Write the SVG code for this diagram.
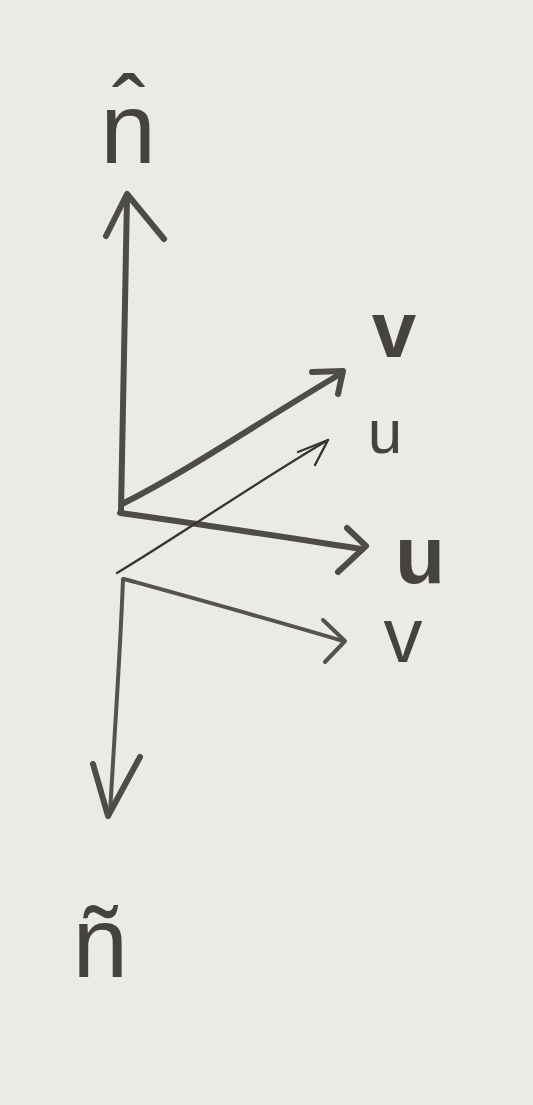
<svg xmlns="http://www.w3.org/2000/svg" width="533" height="1105" viewBox="0 0 533 1105">
<style>
.thick{fill:none;stroke:#4f4b46;stroke-width:6;stroke-linecap:round;stroke-linejoin:round}
.thin{fill:none;stroke:#38362f;stroke-width:2.4;stroke-linecap:round;stroke-linejoin:round}
.mid{fill:none;stroke:#57534c;stroke-width:4;stroke-linecap:round;stroke-linejoin:round}
.lbl{font-family:"Liberation Sans","DejaVu Sans",sans-serif;fill:#46433e;text-anchor:middle}
</style>
<rect width="533" height="1105" fill="#ebebe6"/>
<g id="connectors">
<g id="n-hat-axis"><path class="thick" d="M121 510 C123 420 125 300 127 196"/><path class="thick" d="M106 236 L127 194 L164 239"/></g>
<g id="v-thick"><path class="thick" d="M122 504 C190 470 270 415 342 373"/><path class="thick" d="M312 372 L343 371 L338 394"/></g>
<g id="u-thick"><path class="thick" d="M120 513 C200 524 290 538 362 549"/><path class="thick" d="M347 528 L366 546 L338 572"/></g>
<g id="u-thin"><path class="thin" d="M117 573 C180 535 260 480 328 440"/><path class="thin" d="M298 452 L328 440 L315 465"/></g>
<g id="v-thin"><path class="mid" d="M124 579 C200 600 280 622 343 641"/><path class="mid" d="M323 620 L345 641 L325 662"/></g>
<g id="n-tilde-axis"><path class="mid" d="M123 579 C120 660 114 740 110 814"/><path class="thick" d="M93 764 L108 816 L140 757"/></g>
</g>
<g id="label-n-hat"><text class="lbl" x="128" y="163" font-size="100">n̂</text></g>
<g id="label-v-top"><text class="lbl" x="394" y="357" font-size="80" font-weight="bold">v</text></g>
<g id="label-u-thin"><text class="lbl" x="385" y="453" font-size="62">u</text></g>
<g id="label-u-thick"><text class="lbl" x="420" y="583" font-size="82" font-weight="bold">u</text></g>
<g id="label-v-thin"><text class="lbl" x="403" y="662" font-size="78">v</text></g>
<g id="label-n-tilde"><text class="lbl" x="100" y="977" font-size="100">ñ</text></g>
</svg>
